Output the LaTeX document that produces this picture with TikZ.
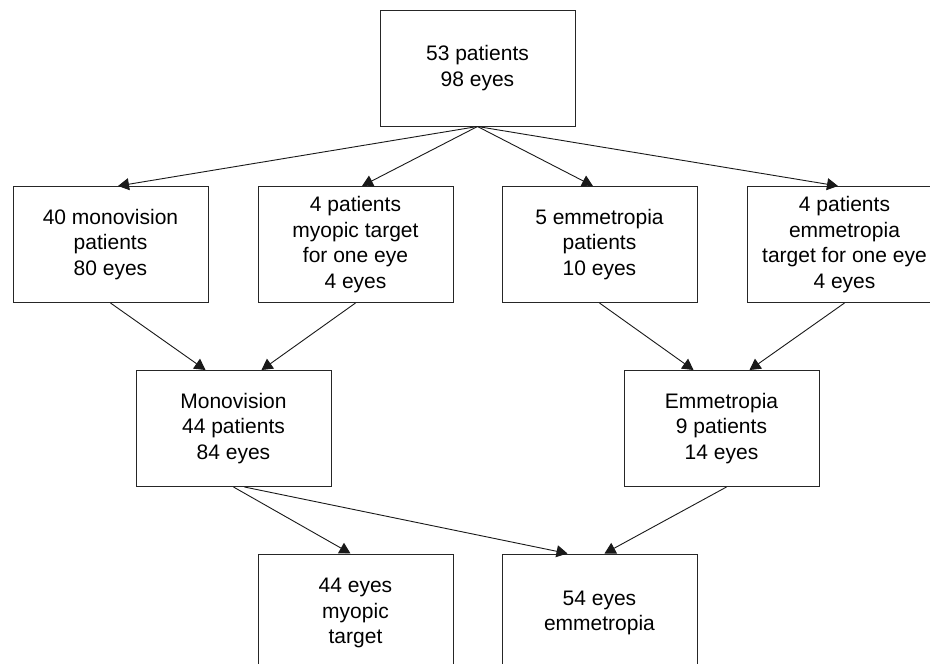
\documentclass[tikz,border=0pt]{standalone}
\usepackage{fontspec}
\setmainfont{Liberation Sans}
\usetikzlibrary{arrows.meta}
\begin{document}
\begin{tikzpicture}[x=1pt,y=-1pt,
  box/.style={draw=black!85, line width=1pt, rectangle, minimum width=195pt, minimum height=116pt,
    inner sep=0pt, align=center, font=\fontsize{21}{25.5}\selectfont},
  arr/.style={draw=black!90, line width=0.9pt, -{Triangle[length=11pt,width=12pt]}}]
\clip (0,0) rectangle (930,664);
\fill[white] (0,0) rectangle (930,664);
\node[box] (top) at (477.5,68) {53 patients\\98 eyes};
\node[box] (b1) at (110.5,244.5) {40 monovision\\patients\\80 eyes};
\node[box] (b2) at (355.5,244.5) {4 patients\\myopic target\\for one eye\\4 eyes};
\node[box] (b3) at (599.5,244.5) {5 emmetropia\\patients\\10 eyes};
\node[box] (b4) at (844.5,244.5) {4 patients\\emmetropia\\target for one eye\\4 eyes};
\node[box] (m) at (233.5,428.5) {Monovision\\44 patients\\84 eyes};
\node[box] (e) at (721.5,428.5) {Emmetropia\\9 patients\\14 eyes};
\node[box, minimum height=118pt] (r1) at (355.5,613) {44 eyes\\myopic\\target};
\node[box, minimum height=118pt] (r2) at (599.5,613) {54 eyes\\emmetropia};
\draw[arr] (top.south) -- ([xshift=7.5pt]b1.north);
\draw[arr] (top.south) -- ([xshift=6.5pt]b2.north);
\draw[arr] (top.south) -- ([xshift=-6.5pt]b3.north);
\draw[arr] (top.south) -- ([xshift=-6.5pt]b4.north);
\draw[arr] (b1.south) -- ([xshift=-28pt]m.north);
\draw[arr] (b2.south) -- ([xshift=28pt]m.north);
\draw[arr] (b3.south) -- ([xshift=-28pt]e.north);
\draw[arr] (b4.south) -- ([xshift=28pt]e.north);
\draw[arr] (m.south) -- ([xshift=-5pt]r1.north);
\draw[arr] ([xshift=11pt]m.south) -- ([xshift=-32pt]r2.north);
\draw[arr] ([xshift=5pt]e.south) -- ([xshift=5pt]r2.north);
\end{tikzpicture}
\end{document}
